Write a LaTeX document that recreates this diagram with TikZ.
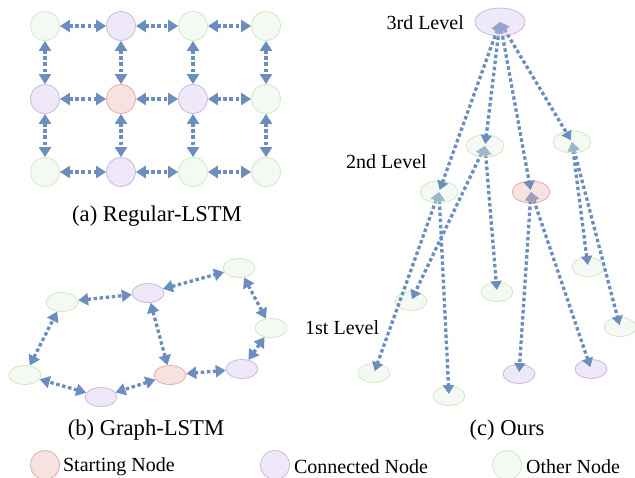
\documentclass[tikz,border=0pt]{standalone}
\usepackage{fontspec}
\setmainfont{Liberation Serif}
\usetikzlibrary{arrows.meta,positioning,shapes.geometric}

\definecolor{linkblue}{RGB}{108,142,191}
\definecolor{startfill}{RGB}{232,182,180}
\definecolor{startline}{RGB}{200,70,60}
\definecolor{connfill}{RGB}{212,197,237}
\definecolor{connline}{RGB}{140,95,185}
\definecolor{otherfill}{RGB}{228,242,224}
\definecolor{otherline}{RGB}{142,205,117}

\begin{document}
\begin{tikzpicture}[
  x=1pt, y=-1pt,
  nd/.style={draw, line width=0.8pt, opacity=0.4, inner sep=0pt},
  start/.style={nd, fill=startfill, draw=startline},
  conn/.style={nd, fill=connfill, draw=connline},
  other/.style={nd, fill=otherfill, draw=otherline},
  circ/.style={circle, minimum size=29pt},
  ell/.style={ellipse, minimum width=32pt, minimum height=19pt},
  midell/.style={ellipse, minimum width=38pt, minimum height=22pt},
  link/.style={draw=linkblue, line width=3.3pt, dash pattern=on 3.5pt off 2.6pt,
    {Triangle[length=10pt,width=12pt]}-{Triangle[length=10pt,width=12pt]}},
  tree/.style={link, {Triangle[length=9pt,width=11pt]}-{Triangle[length=9pt,width=11pt]}, shorten >=2pt},
  captxt/.style={inner sep=0pt, font=\fontsize{22.6}{26}\selectfont},
  lvltxt/.style={inner sep=0pt, font=\fontsize{20}{24}\selectfont},
]
  \useasboundingbox (0,0) rectangle (635,477);

  % (a) Regular-LSTM grid
  \node[other, circ] (a11) at (45,26) {};
  \node[conn, circ] (a12) at (121,26) {};
  \node[other, circ] (a13) at (193,26) {};
  \node[other, circ] (a14) at (266,26) {};
  \node[conn, circ] (a21) at (45,99) {};
  \node[start, circ] (a22) at (121,99) {};
  \node[conn, circ] (a23) at (193,99) {};
  \node[other, circ] (a24) at (266,99) {};
  \node[other, circ] (a31) at (45,172) {};
  \node[conn, circ] (a32) at (121,172) {};
  \node[other, circ] (a33) at (193,172) {};
  \node[other, circ] (a34) at (266,172) {};

  \foreach \r in {1,2,3}
    \foreach \c/\d in {1/2,2/3,3/4}
      \draw[link] (a\r\c) -- (a\r\d);
  \foreach \c in {1,2,3,4}
    \foreach \r/\s in {1/2,2/3}
      \draw[link] (a\r\c) -- (a\s\c);

  \node[captxt, anchor=base] (capa) at (157,221) {(a) Regular-LSTM};

  % (b) Graph-LSTM
  \node[other, ell] (b1) at (62,302) {};
  \node[conn, ell] (b2) at (148,293) {};
  \node[other, ell] (b3) at (239,268) {};
  \node[other, ell] (b4) at (271,328) {};
  \node[conn, ell] (b5) at (242,369) {};
  \node[start, ell] (b6) at (170,375) {};
  \node[conn, ell] (b7) at (101,397) {};
  \node[other, ell] (b8) at (25,375) {};

  \draw[link] (b1) -- (b2);
  \draw[link] (b2) -- (b3);
  \draw[link] (b3) -- (b4);
  \draw[link] (b4) -- (b5);
  \draw[link] (b5) -- (b6);
  \draw[link] (b6) -- (b7);
  \draw[link] (b7) -- (b8);
  \draw[link] (b8) -- (b1);
  \draw[link] (b2) -- (b6);

  \node[captxt, anchor=base] (capb) at (146,435) {(b) Graph-LSTM};

  % (c) Ours: three levels
  \coordinate (tc) at (500,22);
  \coordinate (mA) at (485,146);
  \coordinate (mB) at (572,142);
  \coordinate (mC) at (439,192);
  \coordinate (mD) at (531,192);

  \node[other, ell] (l1) at (374,373) {};
  \node[other, ell] (l2) at (411,301) {};
  \node[other, ell] (l3) at (449,396) {};
  \node[other, ell] (l4) at (497,292) {};
  \node[conn, ell] (l5) at (519,374) {};
  \node[other, ell] (l6) at (588,267) {};
  \node[conn, ell] (l7) at (591,369) {};
  \node[other, ell] (l8) at (620,327) {};

  \draw[tree] (mC) -- (l1.center);
  \draw[tree] (mC) -- (l3.center);
  \draw[tree] (mA) -- (l2.center);
  \draw[tree] (mA) -- (l4.center);
  \draw[tree] (mD) -- (l5.center);
  \draw[tree] (mD) -- (l7.center);
  \draw[tree] (mB) -- (l6.center);
  \draw[tree] (mB) -- (l8.center);

  \node[other, midell] (m1) at (mA) {};
  \node[other, midell] (m2) at (mB) {};
  \node[other, midell] (m3) at (mC) {};
  \node[start, midell] (m4) at (mD) {};

  \draw[tree] (tc) -- (m1.center);
  \draw[tree] (tc) -- (m2.center);
  \draw[tree] (tc) -- (m3.center);
  \draw[tree] (tc) -- (m4.center);

  \node[conn, ellipse, minimum width=50pt, minimum height=28pt] (top) at (tc) {};

  \node[lvltxt, anchor=base east] (lv3) at (464,29) {3rd Level};
  \node[lvltxt, anchor=base west] (lv2) at (346,168) {2nd Level};
  \node[lvltxt, anchor=base west] (lv1) at (305,334) {1st Level};

  \node[captxt, anchor=base] (capc) at (507,435) {(c) Ours};

  % legend
  \node[start, circ] (k1) at (45,465) {};
  \node[conn, circ] (k2) at (275,465) {};
  \node[other, circ] (k3) at (507,465) {};
  \node[lvltxt, right=3pt of k1, yshift=-1.5pt] (t1) {Starting Node};
  \node[lvltxt, right=4pt of k2, yshift=-1.5pt] (t2) {Connected Node};
  \node[lvltxt, right=4pt of k3, yshift=-1.5pt] (t3) {Other Node};
\end{tikzpicture}
\end{document}
